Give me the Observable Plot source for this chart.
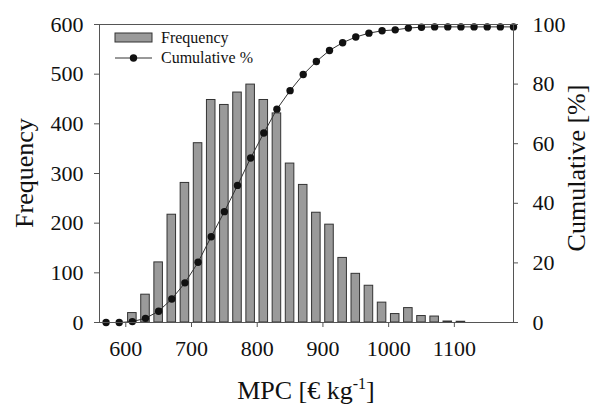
<!DOCTYPE html>
<html><head><meta charset="utf-8">
<script src="https://cdn.jsdelivr.net/npm/d3@7"></script>
<script src="https://cdn.jsdelivr.net/npm/@observablehq/plot@0.6"></script>
<style>
body{margin:0;background:#fff}
svg, svg text{font-family:"Liberation Serif","Times New Roman",serif !important;font-variant:normal !important;font-variant-numeric:normal !important}
</style>
</head><body><div id="chart"></div>
<script>
const mpc = [570,590,610,630,650,670,690,710,730,750,770,790,810,830,850,870,890,910,930,950,970,990,1010,1030,1050,1070,1090,1110,1130,1150,1170,1190];
const frequency = [0,0,19,56,121,217,281,361,448,438,463,479,448,421,320,277,221,197,130,98,74,40,17,29,13,12,2,1.5,0,0,0,0];
const cumulative = [0,0,0.3,1.4,3.8,7.9,13.3,20.2,28.8,37.2,46.0,55.2,63.6,71.6,77.8,83.2,87.6,91.3,93.9,95.8,97.1,97.9,98.2,98.8,99.1,99.2,99.2,99.2,99.2,99.2,99.2,99.2];
const xTicks = [600,700,800,900,1000,1100];
const freqTicks = [0,100,200,300,400,500,600];
const cumTicks = [0,20,40,60,80,100];
const seriesNames = ["Frequency","Cumulative %"];
const FONT = "Liberation Serif";

const k = 6; // cumulative 100 % maps to frequency 600
const data = mpc.map((x,i)=>({x, f: frequency[i], c: cumulative[i]}));
const bars = data.filter(d=>d.f>0);
const lab = {fontSize:22, fontFamily:FONT, fill:"#111", lineAnchor:"middle"};

const plot = Plot.plot({
  width:590, height:405,
  marginLeft:99, marginRight:77, marginTop:24, marginBottom:83,
  style:{fontFamily:FONT, fontSize:"22px", color:"#111", background:"#fff"},
  x:{domain:[560,1190]},
  y:{domain:[0,600]},
  marks:[
    Plot.rectY(bars,{x1:d=>d.x-6.5, x2:d=>d.x+6.5, y:"f", fill:"#9a9a9a", stroke:"#333", strokeWidth:1}),
    Plot.line(data,{x:"x", y:d=>d.c*k, stroke:"#333", strokeWidth:1}),
    Plot.dot(data,{x:"x", y:d=>d.c*k, r:3.7, fill:"#111", stroke:"none"}),
    Plot.frame({stroke:"#555"}),
    // tick marks
    Plot.axisX({ticks:xTicks, tickSize:5, label:null, tickFormat:()=>"", stroke:"#555"}),
    Plot.axisY({ticks:freqTicks, anchor:"left", tickSize:5, label:null, tickFormat:()=>"", stroke:"#555"}),
    Plot.axisY({ticks:cumTicks.map(v=>v*k), anchor:"right", tickSize:4, label:null, tickFormat:()=>"", stroke:"#555"}),
    // tick labels
    Plot.text(xTicks,{x:d=>d, text:d=>String(d), frameAnchor:"bottom", dy:26, textAnchor:"middle", ...lab}),
    Plot.text(freqTicks,{y:d=>d, text:d=>String(d), frameAnchor:"left", dx:-16, textAnchor:"end", ...lab}),
    Plot.text(cumTicks,{y:d=>d*k, text:d=>String(d), frameAnchor:"right", dx:19, textAnchor:"start", ...lab})
  ]
});

const svg = d3.select(plot);
const xr = plot.scale("x").range;
const yr = plot.scale("y").range;
const fLeft = Math.min(...xr), fRight = Math.max(...xr);
const fTop = Math.min(...yr), fBottom = Math.max(...yr);
const midY = (fTop+fBottom)/2;

// y axis titles
svg.append("text")
  .attr("transform",`translate(${fLeft-66},${midY}) rotate(-90)`)
  .attr("text-anchor","middle").attr("font-size",26).attr("fill","#111")
  .text("Frequency");
svg.append("text")
  .attr("transform",`translate(${fRight+72},${midY-5}) rotate(-90)`)
  .attr("text-anchor","middle").attr("font-size",26).attr("fill","#111")
  .text("Cumulative [%]");

// x axis title with superscript
const t = svg.append("text")
  .attr("x",(fLeft+fRight)/2).attr("y",fBottom+77)
  .attr("text-anchor","middle").attr("font-size",26).attr("fill","#111");
t.append("tspan").text("MPC [€ kg");
t.append("tspan").attr("font-size",16).attr("dy",-10).text("-1");
t.append("tspan").attr("dy",10).text("]");

// legend
const lg = svg.append("g").attr("transform",`translate(${fLeft+16},${fTop+9})`).attr("text-anchor","start");
lg.append("rect").attr("x",0).attr("y",0).attr("width",37).attr("height",9)
  .attr("fill","#9a9a9a").attr("stroke","#333");
lg.append("text").attr("x",46).attr("y",10).attr("font-size",16).attr("fill","#111").text(seriesNames[0]);
lg.append("line").attr("x1",0).attr("x2",37).attr("y1",25).attr("y2",25).attr("stroke","#333");
lg.append("circle").attr("cx",18.5).attr("cy",25).attr("r",3.7).attr("fill","#111");
lg.append("text").attr("x",46).attr("y",30).attr("font-size",16).attr("fill","#111").text(seriesNames[1]);

document.getElementById("chart").appendChild(plot);
</script>
</body></html>
